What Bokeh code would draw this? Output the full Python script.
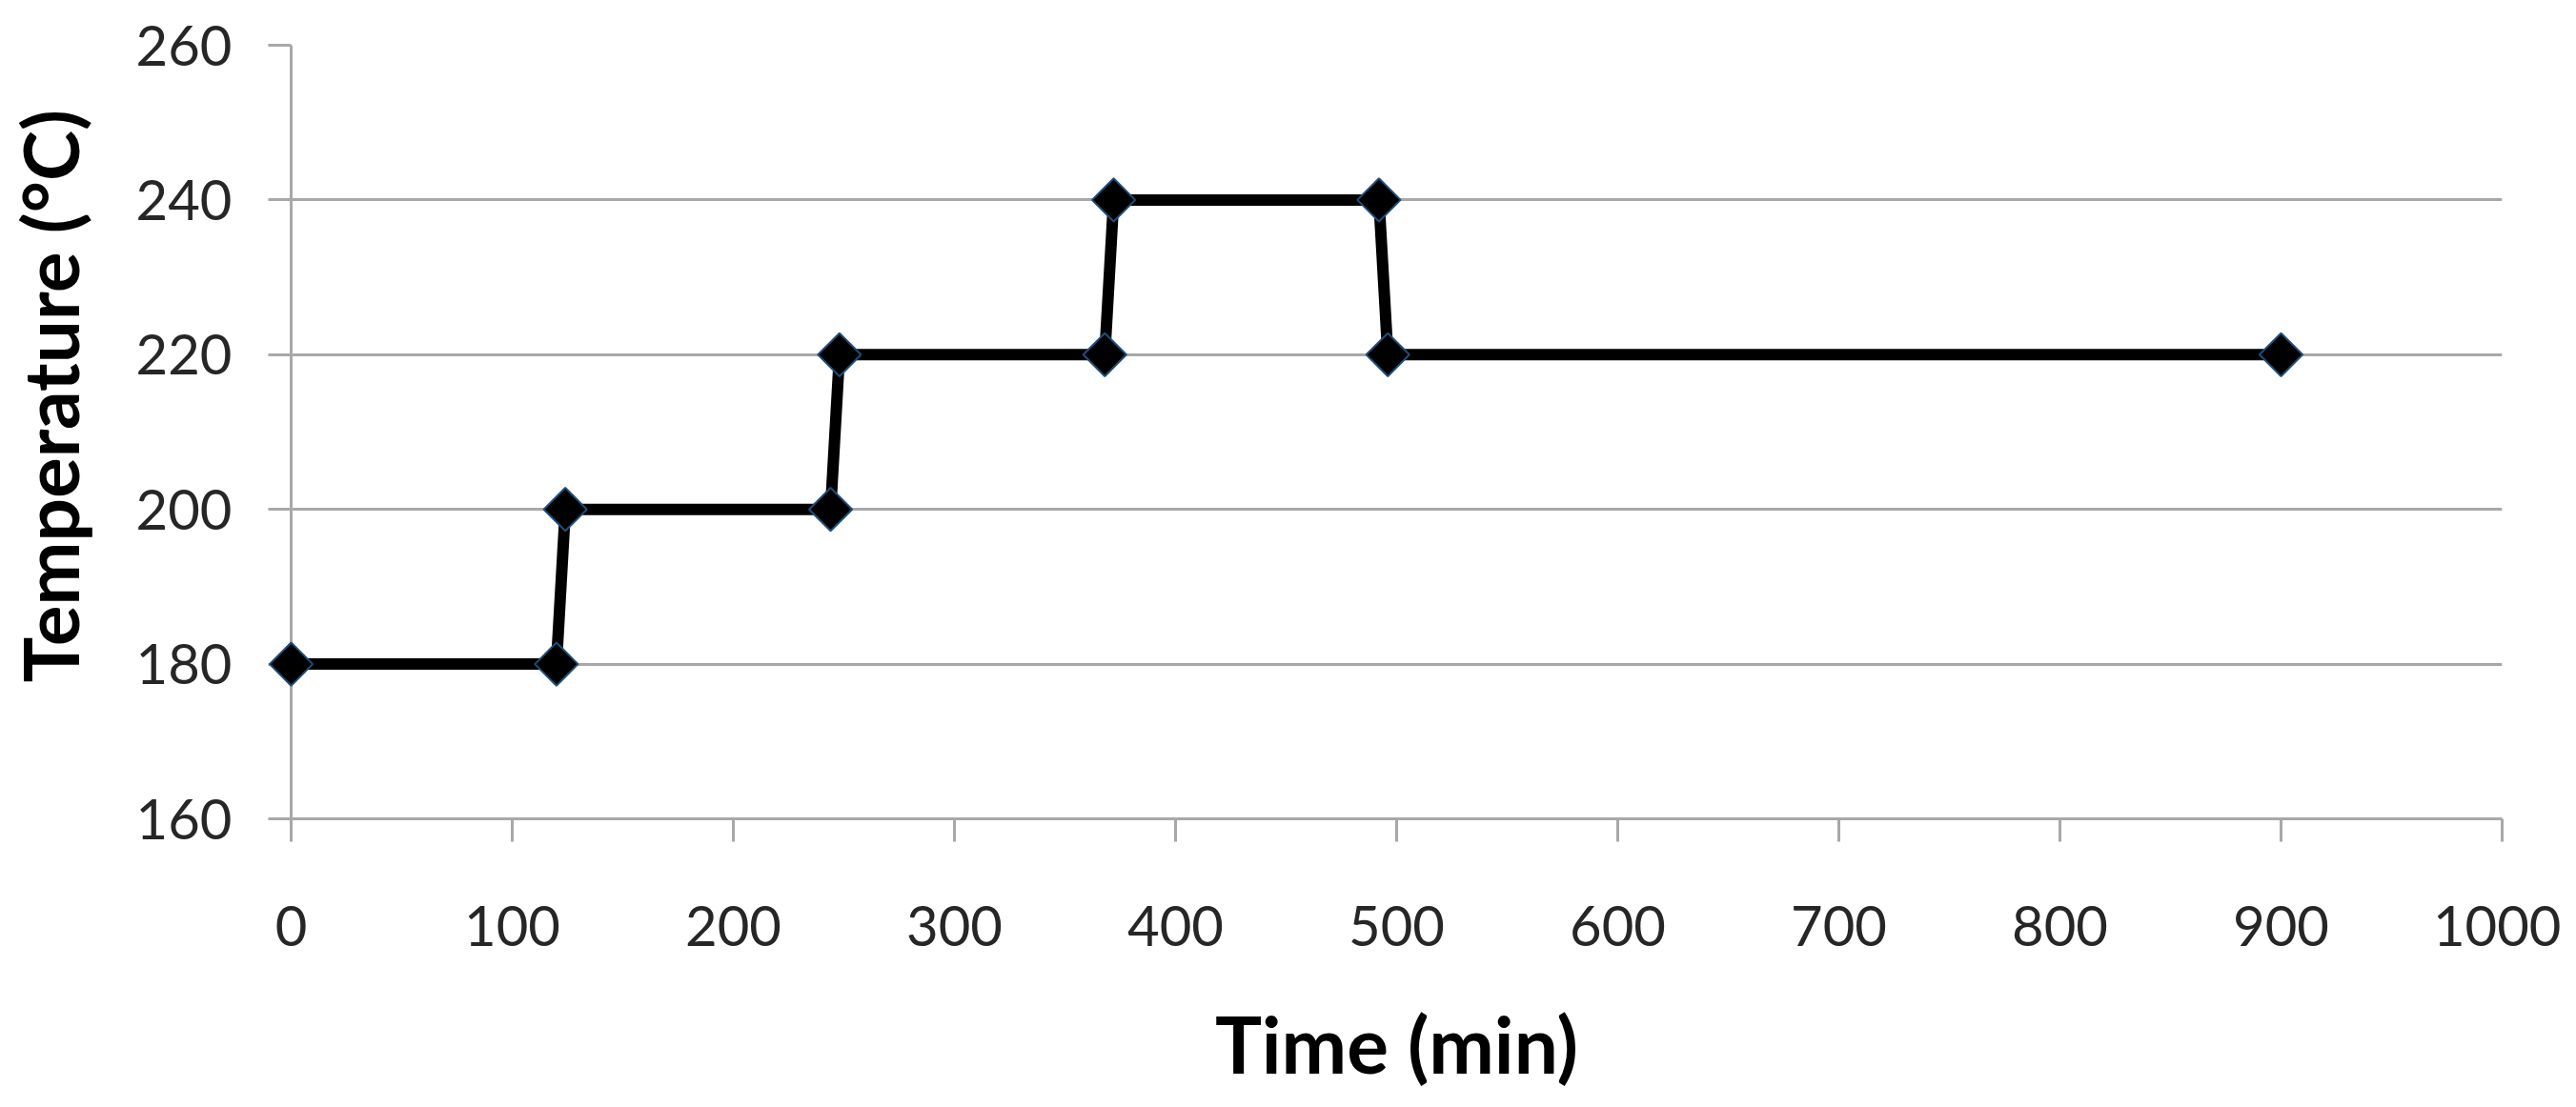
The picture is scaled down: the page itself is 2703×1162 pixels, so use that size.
import math
from bokeh.plotting import figure
from bokeh.models import FixedTicker
from bokeh.embed import file_html
from bokeh.resources import INLINE

# Data
time_min = [0, 120, 124, 244, 248, 368, 372, 492, 496, 900]
temperature_c = [180, 180, 200, 200, 220, 220, 240, 240, 220, 220]
x_ticks = [0, 100, 200, 300, 400, 500, 600, 700, 800, 900, 1000]
y_ticks = [160, 180, 200, 220, 240, 260]

FONT = "Lato"
GRID = "#a8a8a8"

p = figure(width=2687, height=1146, x_range=(0, 1000), y_range=(160, 260),
           output_backend="svg", toolbar_location=None,
           min_border_left=293, min_border_right=62,
           min_border_top=47, min_border_bottom=273)
p.outline_line_color = None
p.background_fill_color = "white"
p.border_fill_color = "white"

p.xgrid.grid_line_color = None
p.ygrid.grid_line_color = GRID
p.ygrid.grid_line_width = 3

p.xaxis.ticker = FixedTicker(ticks=x_ticks)
p.yaxis.ticker = FixedTicker(ticks=y_ticks)

for ax in (p.xaxis[0], p.yaxis[0]):
    ax.axis_line_color = GRID
    ax.axis_line_width = 3
    ax.major_tick_line_color = GRID
    ax.major_tick_line_width = 3
    ax.major_tick_out = 24
    ax.major_tick_in = 0
    ax.minor_tick_line_color = None
    ax.major_label_text_font = FONT
    ax.major_label_text_font_size = "58px"
    ax.major_label_text_color = "#262626"
    ax.axis_label_text_font = FONT
    ax.axis_label_text_font_style = "bold"
    ax.axis_label_text_color = "black"

p.xaxis.axis_label = "Time (min)"
# leading non-breaking spaces shift the rotated title upward like the reference
p.yaxis.axis_label = "\u00a0" * 4 + "Temperature (°C)"
p.xaxis.axis_label_text_font_size = "82px"
p.yaxis.axis_label_text_font_size = "80px"
p.xaxis.major_label_standoff = 67
p.yaxis.major_label_standoff = 38
p.xaxis.axis_label_standoff = 50
p.yaxis.axis_label_standoff = 40

p.line(time_min, temperature_c, line_width=12, line_color="black")
pts = p.scatter(time_min, temperature_c, marker="square", size=32, angle=math.pi / 4,
                fill_color="black", line_color="#1f4e79", line_width=2)
pts.level = "overlay"

open("out.html", "w").write(file_html(p, INLINE))
